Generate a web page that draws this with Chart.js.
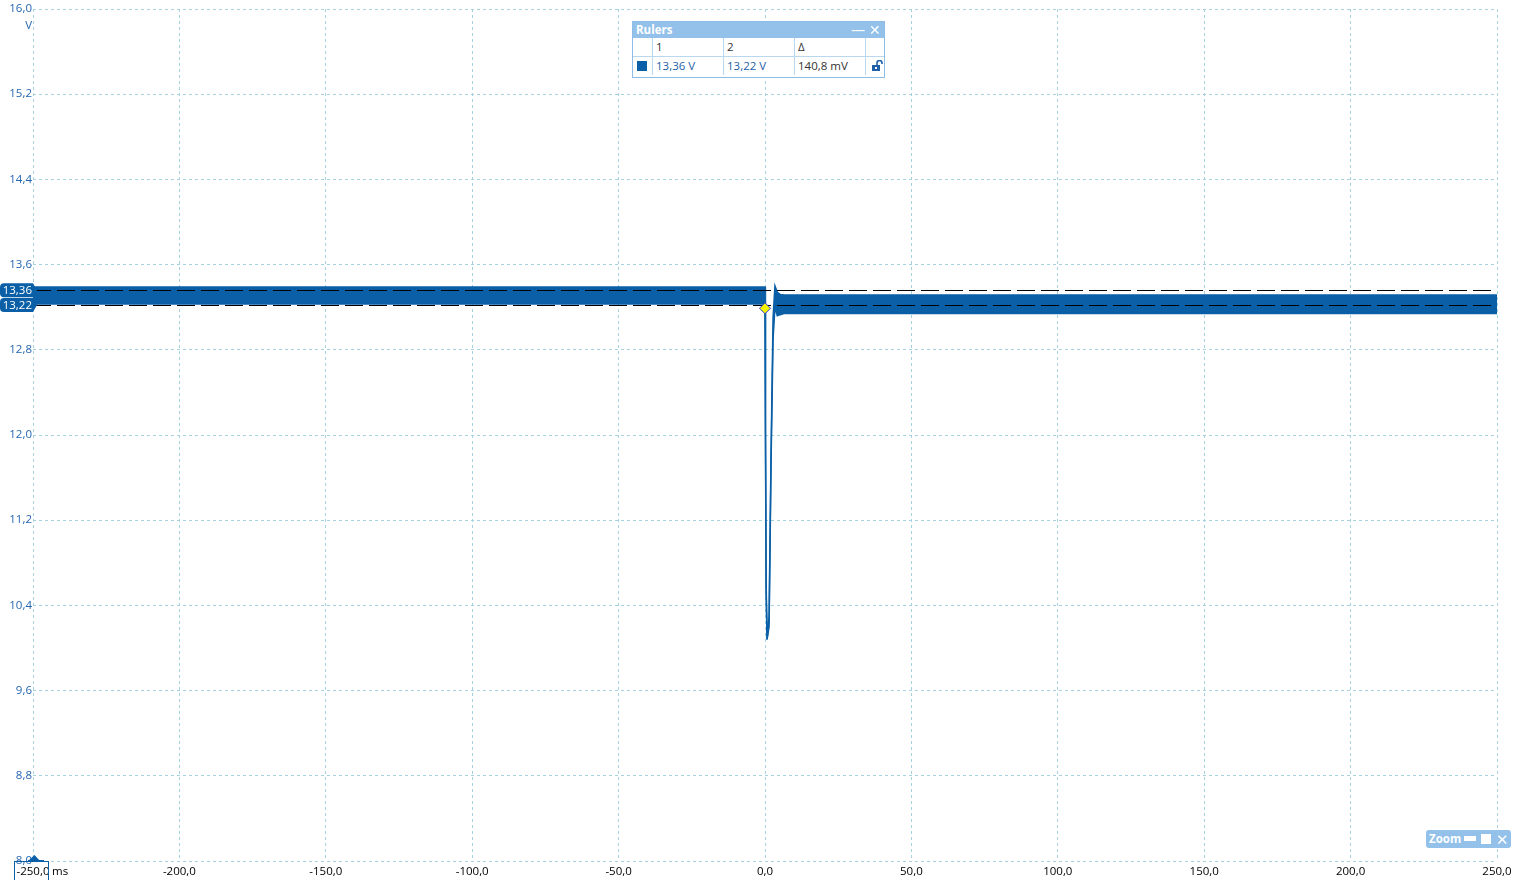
<!DOCTYPE html>
<html>
<head>
<meta charset="utf-8">
<script src="https://cdn.jsdelivr.net/npm/chart.js@4/dist/chart.umd.min.js"></script>
<style>
  html, body { margin: 0; padding: 0; background: #fff; }
  body { width: 1514px; height: 880px; position: relative; overflow: hidden; font-family: "Open Sans", "Noto Sans", sans-serif; }
  #c { position: absolute; left: 0; top: 0; }
  #rulers { position: absolute; left: 632px; top: 21px; width: 251px; height: 55px; border: 1px solid #8dbde6; background: #fff; font-size: 11.5px; }
  #rulers .hdr { height: 16px; background: #93c1ea; color: #fff; font-weight: bold; position: relative; line-height: 16px; padding-left: 3px; font-size: 11.5px; }
  #rulers .hdr .btns { position: absolute; right: 3px; top: 0; font-weight: normal; font-size: 14px; line-height: 15px; }
  #rulers table { border-collapse: collapse; width: 100%; }
  #rulers td { border: 1px solid #b9d7ef; height: 18px; padding: 0 0 0 3px; vertical-align: middle; color: #333; line-height: 14px; }
  #rulers tr:first-child td { border-top: none; }
  #rulers td:first-child { border-left: none; }
  #rulers td:last-child { border-right: none; }
  #rulers tr:last-child td { border-bottom: none; }
  .blue { color: #1f5fa6 !important; }
  #zoom { position: absolute; left: 1426px; top: 830px; width: 85px; height: 18px; background: #93c1ea; border-radius: 3px; color: #fff; font-weight: bold; font-size: 11.5px; line-height: 18px; }
</style>
</head>
<body>
<canvas id="c" width="1514" height="880"></canvas>

<div id="rulers">
  <div class="hdr">Rulers<span class="btns">— ✕</span></div>
  <table>
    <tr><td style="width:16px"></td><td style="width:67px">1</td><td style="width:67px">2</td><td style="width:67px">Δ</td><td></td></tr>
    <tr>
      <td><div style="width:10px;height:10px;background:#0a5fa6;margin-left:1px"></div></td>
      <td class="blue" id="r1"></td>
      <td class="blue" id="r2"></td>
      <td id="rd"></td>
      <td><svg width="12" height="12" viewBox="0 0 12 12" style="margin-left:2px;display:block"><rect x="1" y="5" width="8" height="6" fill="#1f5fa6"/><path d="M6 5 V3 a2.5 2.5 0 0 1 5 0 V4" stroke="#1f5fa6" stroke-width="1.6" fill="none"/><rect x="4" y="7" width="2" height="2" fill="#fff"/></svg></td>
    </tr>
  </table>
</div>

<div id="zoom"><span style="margin-left:3px">Zoom</span>
  <span style="position:absolute;left:38px;top:6px;width:12px;height:5px;background:#fff"></span>
  <span style="position:absolute;left:55px;top:4px;width:10px;height:10px;background:#fff"></span>
  <span style="position:absolute;left:70px;top:0;font-weight:normal;font-size:15px">✕</span>
</div>

<script>
// ---- data ----
const times  = [-250, 0.0, 0.15, 0.4, 0.7, 1.0, 1.4, 2.05, 2.75, 3.4, 4.2, 5.2, 6.5, 250];
const upperV = [13.39, 13.39, 12.2, 10.6, 10.08, 10.08, 10.3, 11.8, 13.1, 13.40, 13.34, 13.32, 13.315, 13.315];
const lowerV = [13.23, 13.23, 12.0, 10.5, 10.08, 10.08, 10.2, 11.7, 12.9, 13.20, 13.12, 13.13, 13.14, 13.14];
const triggerTime = [0];
const triggerLevel = [13.19];
const rulerValues = [13.36, 13.22];
const rulerLabels = ["13,36", "13,22"];
const rulerDeltaText = "140,8 mV";
const xTicks = [-250, -200, -150, -100, -50, 0, 50, 100, 150, 200, 250];
const yTicks = [8.0, 8.8, 9.6, 10.4, 11.2, 12.0, 12.8, 13.6, 14.4, 15.2, 16.0];

document.getElementById('r1').textContent = rulerLabels[0] + " V";
document.getElementById('r2').textContent = rulerLabels[1] + " V";
document.getElementById('rd').textContent = rulerDeltaText;

const TRACE = '#0a5fa6';
const GRID = '#a6d2e0';
const TICKBLUE = '#2566b0';
const FONT = { family: '"Open Sans", "Noto Sans", sans-serif', size: 11.5 };
const fmt = v => Number(v).toFixed(1).replace('.', ',');

const overlay = {
  id: 'overlay',
  afterDatasetDraw(chart, args) {
    if (args.index !== 1) return;
    const { ctx, chartArea: a, scales: { y } } = chart;
    ctx.save();
    ctx.strokeStyle = '#000';
    ctx.lineWidth = 1;
    ctx.setLineDash([18, 6]);
    rulerValues.forEach(v => {
      const py = Math.round(y.getPixelForValue(v)) + 0.5;
      ctx.beginPath(); ctx.moveTo(a.left, py); ctx.lineTo(a.right, py); ctx.stroke();
    });
    ctx.restore();
  },
  afterDraw(chart) {
    const { ctx, chartArea: a, scales: { x, y } } = chart;
    ctx.save();
    // ruler tags
    ctx.font = '11.5px "Open Sans", "Noto Sans", sans-serif';
    ctx.textAlign = 'right'; ctx.textBaseline = 'middle';
    rulerValues.forEach((v, i) => {
      const py = y.getPixelForValue(v);
      const top = py - 7, h = 14, r = 4;
      ctx.fillStyle = TRACE;
      ctx.beginPath();
      ctx.moveTo(r, top);
      ctx.lineTo(33, top);
      ctx.lineTo(37, py);
      ctx.lineTo(33, top + h);
      ctx.lineTo(r, top + h);
      ctx.quadraticCurveTo(0, top + h, 0, top + h - r);
      ctx.lineTo(0, top + r);
      ctx.quadraticCurveTo(0, top, r, top);
      ctx.fill();
      ctx.fillStyle = '#fff';
      ctx.fillText(rulerLabels[i], 32, py + 0.5);
    });
    // unit V
    ctx.fillStyle = TICKBLUE;
    ctx.textAlign = 'right';
    ctx.fillText('V', 32, 26);
    // ms unit
    ctx.fillStyle = '#000';
    ctx.textAlign = 'left';
    ctx.fillText('ms', 52, 872);
    // box around first x label
    ctx.strokeStyle = TRACE; ctx.lineWidth = 1;
    ctx.strokeRect(14.5, 861.5, 34, 20);
    // bottom-left triangle marker
    const bx = x.getPixelForValue(-250), by = a.bottom;
    ctx.fillStyle = TRACE;
    ctx.beginPath();
    ctx.moveTo(bx - 5, by); ctx.lineTo(bx + 1.5, by - 6); ctx.lineTo(bx + 7, by); ctx.closePath(); ctx.fill();
    ctx.fillRect(bx - 5, by - 1, 16, 2);
    ctx.restore();
  }
};

new Chart(document.getElementById('c'), {
  type: 'line',
  data: {
    datasets: [
      { data: times.map((t, i) => ({ x: t, y: upperV[i] })), borderColor: TRACE, borderWidth: 1.5, pointRadius: 0, fill: false, tension: 0, order: 3 },
      { data: times.map((t, i) => ({ x: t, y: lowerV[i] })), borderColor: TRACE, borderWidth: 1.5, pointRadius: 0, fill: '-1', backgroundColor: TRACE, tension: 0, order: 2 },
      { data: triggerTime.map((t, i) => ({ x: t, y: triggerLevel[i] })), showLine: false, pointStyle: 'rectRot', pointRadius: 5.5,
        pointBackgroundColor: '#f5f000', pointBorderColor: '#2a3fd6', pointBorderWidth: 1, order: 1 }
    ]
  },
  options: {
    responsive: false, animation: false, events: [],
    layout: { padding: { left: 0, right: 17, top: 9, bottom: 0 } },
    plugins: { legend: { display: false }, tooltip: { enabled: false } },
    scales: {
      x: {
        type: 'linear', min: xTicks[0], max: xTicks[xTicks.length - 1],
        afterBuildTicks(s) { s.ticks = xTicks.map(v => ({ value: v })); },
        ticks: { callback: v => fmt(v), color: '#000', font: FONT, padding: 4, maxRotation: 0, autoSkip: false },
        grid: { color: GRID, drawTicks: false, lineWidth: 1 },
        border: { display: false, dash: [3, 3] },
        afterFit(s) { s.height = 19; s.paddingLeft = 0; s.paddingRight = 0; }
      },
      y: {
        type: 'linear', min: yTicks[0], max: yTicks[yTicks.length - 1],
        afterBuildTicks(s) { s.ticks = yTicks.map(v => ({ value: v })); },
        ticks: { callback: v => fmt(v), color: TICKBLUE, font: FONT, padding: 1, autoSkip: false },
        grid: { color: GRID, drawTicks: false, lineWidth: 1 },
        border: { display: false, dash: [3, 3] },
        afterFit(s) { s.width = 33; s.paddingTop = 0; s.paddingBottom = 0; }
      }
    }
  },
  plugins: [overlay]
});
</script>
</body>
</html>
